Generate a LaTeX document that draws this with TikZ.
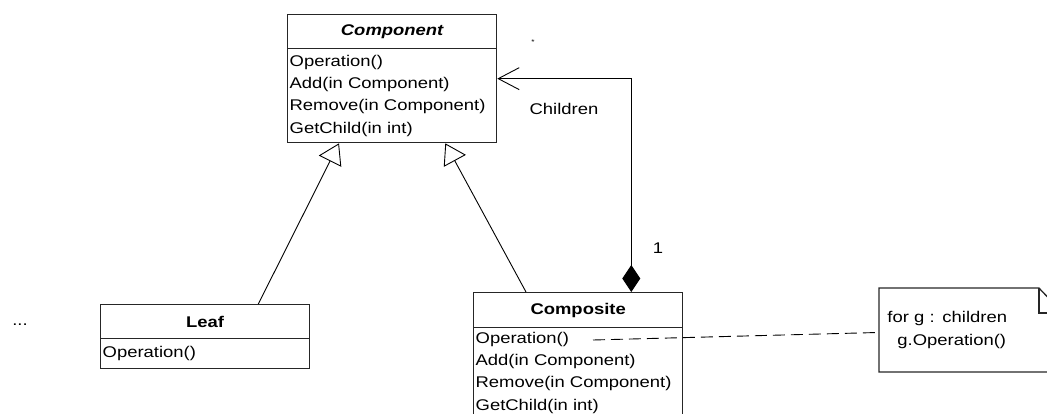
\documentclass[tikz,border=0pt]{standalone}
\usepackage{fontspec}
\setmainfont[FakeStretch=1.19]{Liberation Sans}
\usetikzlibrary{arrows.meta}

\newcommand{\umlfont}{\fontsize{15.5}{22.3}\selectfont}

\tikzset{
	cls/.style={draw=black!85, line width=1.3pt, minimum width=209pt, inner sep=0pt, anchor=north west},
	head/.style={cls, font=\umlfont\bfseries},
	body/.style={cls, align=left, text width=205pt, inner xsep=2pt},
	gen/.style={-{Triangle[open, length=20pt, width=25pt]}},
	agg/.style={{Diamond[length=27pt, width=18pt]}-{Straight Barb[length=21pt, width=22pt]}},
	notebox/.style={draw=black!85, line width=1.3pt}
}

\begin{document}
\begin{tikzpicture}[x=1pt, y=-1pt, font=\umlfont, line width=0.9pt]

\clip (0,0) rectangle (1047,413);

\node [head, minimum height=34pt] (compHead) at (287,14) {\itshape Component};
\node [body, minimum height=94pt] (compBody) at (287,48) {Operation()\\Add(in Component)\\Remove(in Component)\\GetChild(in int)};

\node [head, minimum height=34pt] (leafHead) at (100,304) {Leaf};
\node [body, minimum height=30pt] (leafBody) at (100,338) {Operation()};

\node [head, minimum height=35pt] (compositeHead) at (473,292) {Composite};
\node [body, minimum height=90pt] (compositeBody) at (473,327) {Operation()\\Add(in Component)\\Remove(in Component)\\GetChild(in int)};

\node [anchor=north west, minimum width=183pt, minimum height=83pt, inner xsep=8pt, text width=167pt, align=left] (note) at (879,288) {for g : children\\\hspace*{10pt}g.Operation()};
\draw [notebox] (note.south west) -- (note.north west) -- ([xshift=-24pt]note.north east) -- ([yshift=-25pt]note.north east) -- (note.south east) -- cycle;
\draw [notebox] ([xshift=-24pt]note.north east) |- ([yshift=-25pt]note.north east);

\node (dots) at (20,325) {...};
\node [font=\fontsize{7}{8}\selectfont] (multMany) at (533,42) {*};
\node (role) at (564,109) {Children};
\node (multOne) at (658,248) {1};

\draw [gen] ([xshift=-52pt]leafHead.north east) -- ([xshift=52pt]compBody.south west);
\draw [gen] ([xshift=53pt]compositeHead.north west) -- ([xshift=-52pt]compBody.south east);
\draw [agg] ([xshift=-52pt]compositeHead.north east) |- ([yshift=17pt]compBody.east);

\coordinate (opEnd) at (593,340);
\draw [dash pattern=on 12pt off 6pt] (opEnd) -- ([yshift=-2.5pt]note.west);

\end{tikzpicture}
\end{document}
